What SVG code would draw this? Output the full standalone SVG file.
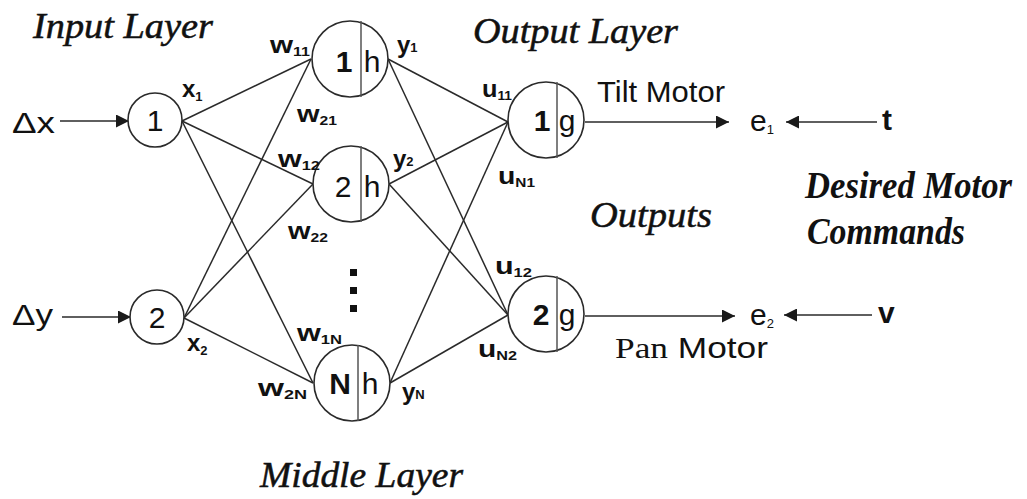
<svg xmlns="http://www.w3.org/2000/svg" width="1027" height="499" viewBox="0 0 1027 499">
<defs>
<marker id="arr" viewBox="0 0 13 13" refX="13" refY="6.5" markerWidth="13" markerHeight="13" markerUnits="userSpaceOnUse" orient="auto">
<path d="M0,0 L13,6.5 L0,13 Z" fill="#1a1a1a"/>
</marker>
<style>
.ln{stroke:#2a2a2a;stroke-width:1.5;fill:none}
.nd{stroke:#2a2a2a;stroke-width:1.6;fill:#fff}
.dv{stroke:#555;stroke-width:1.5}
.ttl{font-family:"Liberation Serif",serif;font-style:italic;font-size:36px;fill:#111;stroke:#111;stroke-width:0.5}
.ttl2{font-family:"Liberation Serif",serif;font-style:italic;font-weight:bold;font-size:37px;fill:#111}
.lb{font-family:"Liberation Sans",Arial,sans-serif;font-weight:bold;font-size:24px;fill:#111}
.sb{font-size:13px}
.nl{font-family:"Liberation Sans",Arial,sans-serif;font-size:30px;fill:#111}
.mt{font-family:"Liberation Sans",Arial,sans-serif;font-size:30px;fill:#111}
.dl{font-family:"Liberation Sans",Arial,sans-serif;font-size:29px;fill:#111}
</style>
</defs>
<rect width="1027" height="499" fill="#fff"/>

<g id="connectors">
<line class="ln" x1="60" y1="121" x2="129" y2="121" marker-end="url(#arr)"/>
<line class="ln" x1="62" y1="317" x2="131" y2="317" marker-end="url(#arr)"/>
<line class="ln" x1="182" y1="121" x2="311" y2="59"/>
<line class="ln" x1="182" y1="121" x2="313" y2="184"/>
<line class="ln" x1="182" y1="121" x2="313" y2="383"/>
<line class="ln" x1="184" y1="318" x2="311" y2="59"/>
<line class="ln" x1="184" y1="318" x2="313" y2="184"/>
<line class="ln" x1="184" y1="318" x2="313" y2="383"/>
<line class="ln" x1="388" y1="59" x2="508" y2="122"/>
<line class="ln" x1="388" y1="59" x2="508" y2="315"/>
<line class="ln" x1="389" y1="184" x2="508" y2="122"/>
<line class="ln" x1="389" y1="184" x2="508" y2="315"/>
<line class="ln" x1="390" y1="383" x2="508" y2="122"/>
<line class="ln" x1="390" y1="383" x2="508" y2="315"/>
<line class="ln" x1="585" y1="122" x2="729" y2="122" marker-end="url(#arr)"/>
<line class="ln" x1="877" y1="122" x2="786" y2="122" marker-end="url(#arr)"/>
<line class="ln" x1="585" y1="316" x2="735" y2="316" marker-end="url(#arr)"/>
<line class="ln" x1="872" y1="315" x2="784" y2="315" marker-end="url(#arr)"/>
</g>

<g id="input1">
<circle class="nd" cx="155" cy="120" r="27"/>
<text class="nl" x="155" y="131" text-anchor="middle" font-size="28">1</text>
</g>
<g id="input2">
<circle class="nd" cx="157" cy="317" r="27"/>
<text class="nl" x="157" y="328" text-anchor="middle" font-size="28">2</text>
</g>

<g id="middle1">
<circle class="nd" cx="350" cy="59" r="38"/>
<line class="dv" x1="361" y1="21" x2="361" y2="97"/>
<text class="nl" x="344" y="72" text-anchor="middle" font-weight="bold">1</text>
<text class="nl" x="372" y="72" text-anchor="middle">h</text>
</g>
<g id="middle2">
<circle class="nd" cx="351" cy="184" r="38"/>
<line class="dv" x1="361" y1="146" x2="361" y2="222"/>
<text class="nl" x="343" y="197" text-anchor="middle">2</text>
<text class="nl" x="372" y="197" text-anchor="middle">h</text>
</g>
<g id="middleN">
<circle class="nd" cx="352" cy="383" r="38"/>
<line class="dv" x1="358" y1="345" x2="358" y2="421"/>
<text class="nl" x="340" y="394" text-anchor="middle" font-weight="bold">N</text>
<text class="nl" x="370" y="394" text-anchor="middle">h</text>
</g>
<g id="dots" fill="#111">
<rect x="350" y="269" width="7" height="7"/>
<rect x="350" y="287" width="7" height="7"/>
<rect x="350" y="305" width="7" height="7"/>
</g>

<g id="output1">
<circle class="nd" cx="546" cy="120" r="38"/>
<line class="dv" x1="557" y1="82" x2="557" y2="158"/>
<text class="nl" x="542" y="131" text-anchor="middle" font-weight="bold">1</text>
<text class="nl" x="567" y="131" text-anchor="middle">g</text>
</g>
<g id="output2">
<circle class="nd" cx="546" cy="314" r="38"/>
<line class="dv" x1="557" y1="276" x2="557" y2="352"/>
<text class="nl" x="541" y="325" text-anchor="middle" font-weight="bold">2</text>
<text class="nl" x="567" y="325" text-anchor="middle">g</text>
</g>

<g id="labels">
<text class="ttl" x="33" y="38" textLength="180" lengthAdjust="spacingAndGlyphs">Input Layer</text>
<text class="ttl" x="473" y="43" textLength="205" lengthAdjust="spacingAndGlyphs">Output Layer</text>
<text class="ttl" x="260" y="487" textLength="203" lengthAdjust="spacingAndGlyphs">Middle Layer</text>
<text class="ttl" x="590" y="227" textLength="122" lengthAdjust="spacingAndGlyphs">Outputs</text>
<text class="ttl2" x="805" y="198" textLength="207" lengthAdjust="spacingAndGlyphs">Desired Motor</text>
<text class="ttl2" x="807" y="244" textLength="158" lengthAdjust="spacingAndGlyphs">Commands</text>

<text class="dl" x="12" y="133" textLength="43" lengthAdjust="spacingAndGlyphs">Δx</text>
<text class="dl" x="12" y="325" textLength="41" lengthAdjust="spacingAndGlyphs">Δy</text>

<text class="lb" x="182" y="97">x<tspan class="sb" dy="4">1</tspan></text>
<text class="lb" x="187" y="351">x<tspan class="sb" dy="4">2</tspan></text>
<text class="lb" x="270" y="53" textLength="40" lengthAdjust="spacingAndGlyphs">w<tspan class="sb" dy="3">11</tspan></text>
<text class="lb" x="297" y="122" textLength="40" lengthAdjust="spacingAndGlyphs">w<tspan class="sb" dy="3">21</tspan></text>
<text class="lb" x="278" y="167" textLength="42" lengthAdjust="spacingAndGlyphs">w<tspan class="sb" dy="3">12</tspan></text>
<text class="lb" x="288" y="239" textLength="40" lengthAdjust="spacingAndGlyphs">w<tspan class="sb" dy="3">22</tspan></text>
<text class="lb" x="297" y="341" textLength="45" lengthAdjust="spacingAndGlyphs">w<tspan class="sb" dy="3">1N</tspan></text>
<text class="lb" x="258" y="396" textLength="49" lengthAdjust="spacingAndGlyphs">w<tspan class="sb" dy="3">2N</tspan></text>
<text class="lb" x="397" y="53">y<tspan class="sb" dy="-1">1</tspan></text>
<text class="lb" x="393" y="167">y<tspan class="sb" dy="-1">2</tspan></text>
<text class="lb" x="402" y="400">y<tspan class="sb" dy="-1">N</tspan></text>
<text class="lb" x="482" y="97" textLength="30" lengthAdjust="spacingAndGlyphs">u<tspan class="sb" dy="3">11</tspan></text>
<text class="lb" x="498" y="184" textLength="37" lengthAdjust="spacingAndGlyphs">u<tspan class="sb" dy="3">N1</tspan></text>
<text class="lb" x="495" y="274" textLength="37" lengthAdjust="spacingAndGlyphs">u<tspan class="sb" dy="3">12</tspan></text>
<text class="lb" x="478" y="357" textLength="39" lengthAdjust="spacingAndGlyphs">u<tspan class="sb" dy="3">N2</tspan></text>

<text class="mt" x="597" y="102" textLength="128" lengthAdjust="spacingAndGlyphs">Tilt Motor</text>
<text class="mt" x="615" y="358" textLength="153" lengthAdjust="spacingAndGlyphs"><tspan font-family="Liberation Serif,serif">Pan</tspan> Motor</text>

<text class="mt" x="750" y="131" font-size="28">e<tspan class="sb" dy="3">1</tspan></text>
<text class="mt" x="750" y="325" font-size="28">e<tspan class="sb" dy="3">2</tspan></text>
<text class="mt" x="882" y="130" font-size="26" font-weight="bold">t</text>
<text class="mt" x="878" y="323" font-size="30" font-weight="bold">v</text>
</g>
</svg>
